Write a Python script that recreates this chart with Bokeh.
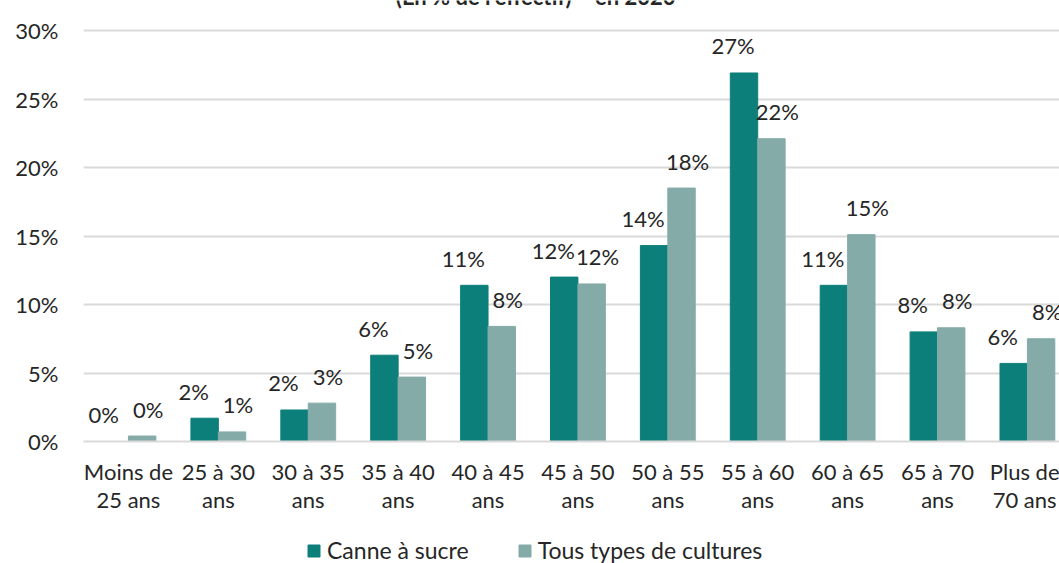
from bokeh.plotting import figure
from bokeh.layouts import column
from bokeh.models import (ColumnDataSource, FixedTicker, Legend, LegendItem, Label,
                          NumeralTickFormatter)
from bokeh.core.properties import value
from bokeh.embed import file_html
from bokeh.resources import INLINE

categories = ["Moins de\n25 ans", "25 à 30\nans", "30 à 35\nans", "35 à 40\nans",
              "40 à 45\nans", "45 à 50\nans", "50 à 55\nans", "55 à 60\nans",
              "60 à 65\nans", "65 à 70\nans", "Plus de\n70 ans"]
canne = [0.0, 1.7, 2.3, 6.3, 11.4, 12.0, 14.3, 26.9, 11.4, 8.0, 5.7]
tous = [0.4, 0.7, 2.8, 4.7, 8.4, 11.5, 18.5, 22.1, 15.1, 8.3, 7.5]
canne_labels = ["0%", "2%", "2%", "6%", "11%", "12%", "14%", "27%", "11%", "8%", "6%"]
tous_labels = ["0%", "1%", "3%", "5%", "8%", "12%", "18%", "22%", "15%", "8%", "8%"]
y_ticks = [0, 5, 10, 15, 20, 25, 30]
title_text = "(En % de l'effectif) – en 2020"
series_names = ["Canne à sucre", "Tous types de cultures"]

C1 = "#0D7F7B"
C2 = "#85ABA8"
FONT = "Lato"
TXT = "#262626"
BW = 0.305

idx = list(range(len(categories)))
src = ColumnDataSource(dict(
    x=idx,
    xc=[i - BW / 2 for i in idx],
    xt=[i + BW / 2 for i in idx],
    canne=canne, tous=tous,
    cl=canne_labels, tl=tous_labels,
))

p = figure(frame_width=976, frame_height=441, output_backend="svg",
           toolbar_location=None,
           x_range=(-0.5, 10.357), y_range=(0, 32.19),
           min_border_left=83, min_border_right=0, min_border_top=0,
           min_border_bottom=70)
p.outline_line_color = None
p.background_fill_color = "white"
p.border_fill_color = "white"

r1 = p.vbar(x="xc", top="canne", width=BW, source=src, fill_color=C1,
            line_color=C1)
r2 = p.vbar(x="xt", top="tous", width=BW, source=src, fill_color=C2,
            line_color=C2)

p.text(x="xc", y="canne", text="cl", source=src, x_offset=-11, y_offset=-27,
       text_align="center", text_baseline="middle", text_font=value(FONT),
       text_font_size="22px", text_color=TXT)
p.text(x="xt", y="tous", text="tl", source=src, x_offset=6, y_offset=-27,
       text_align="center", text_baseline="middle", text_font=value(FONT),
       text_font_size="22px", text_color=TXT)

# axes
p.xaxis.ticker = FixedTicker(ticks=idx)
p.xaxis.major_label_overrides = {i: c for i, c in zip(idx, categories)}
p.xaxis.major_tick_line_color = None
p.xaxis.major_tick_out = 0
p.xaxis.major_tick_in = 0
p.xaxis.minor_tick_line_color = None
p.xaxis.axis_line_color = "#D9D9D9"
p.xaxis.axis_line_width = 2
p.xaxis.major_label_text_font = FONT
p.xaxis.major_label_text_font_size = "22px"
p.xaxis.major_label_text_color = TXT
p.xaxis.major_label_standoff = 16
p.xaxis.major_label_text_line_height = 1.05

p.yaxis.ticker = FixedTicker(ticks=y_ticks)
p.yaxis.formatter = NumeralTickFormatter(format="0")
p.yaxis.major_label_overrides = {t: f"{t}%" for t in y_ticks}
p.yaxis.major_tick_line_color = None
p.yaxis.minor_tick_line_color = None
p.yaxis.axis_line_color = None
p.yaxis.major_label_text_font = FONT
p.yaxis.major_label_text_font_size = "22px"
p.yaxis.major_label_text_color = TXT
p.yaxis.major_label_standoff = 19

p.xgrid.grid_line_color = None
p.ygrid.grid_line_color = "#D9D9D9"
p.ygrid.grid_line_width = 2

p.add_layout(Label(x=4.53, y=31.53, text=title_text, text_align="center",
                   text_baseline="bottom", text_font=FONT, text_font_size="22px",
                   text_font_style="bold", text_color=TXT))

# legend strip below the chart (same series, hidden renderers: only the legend shows)
lf = figure(width=1059, height=52, output_backend="svg", toolbar_location=None,
            x_axis_location=None, y_axis_location=None,
            x_range=(-0.5, 10.357), y_range=(-20, -10),
            min_border_left=0, min_border_right=0, min_border_top=0,
            min_border_bottom=0)
lf.outline_line_color = None
lf.xgrid.grid_line_color = None
lf.ygrid.grid_line_color = None
l1 = lf.vbar(x="xc", top="canne", width=BW, source=src, fill_color=C1, line_color=C1)
l2 = lf.vbar(x="xt", top="tous", width=BW, source=src, fill_color=C2, line_color=C2)
l1.visible = False
l2.visible = False
legend = Legend(items=[LegendItem(label=series_names[0], renderers=[l1]),
                       LegendItem(label=series_names[1], renderers=[l2])],
                orientation="horizontal", location=(223, 3), click_policy="none",
                label_text_font=FONT, label_text_font_size="23px",
                label_text_color=TXT, glyph_width=15, glyph_height=15,
                label_standoff=6, spacing=48, border_line_color=None,
                background_fill_alpha=0, margin=0, padding=0)
lf.add_layout(legend, "center")

open("out.html", "w").write(file_html(column(p, lf, spacing=0), INLINE))
